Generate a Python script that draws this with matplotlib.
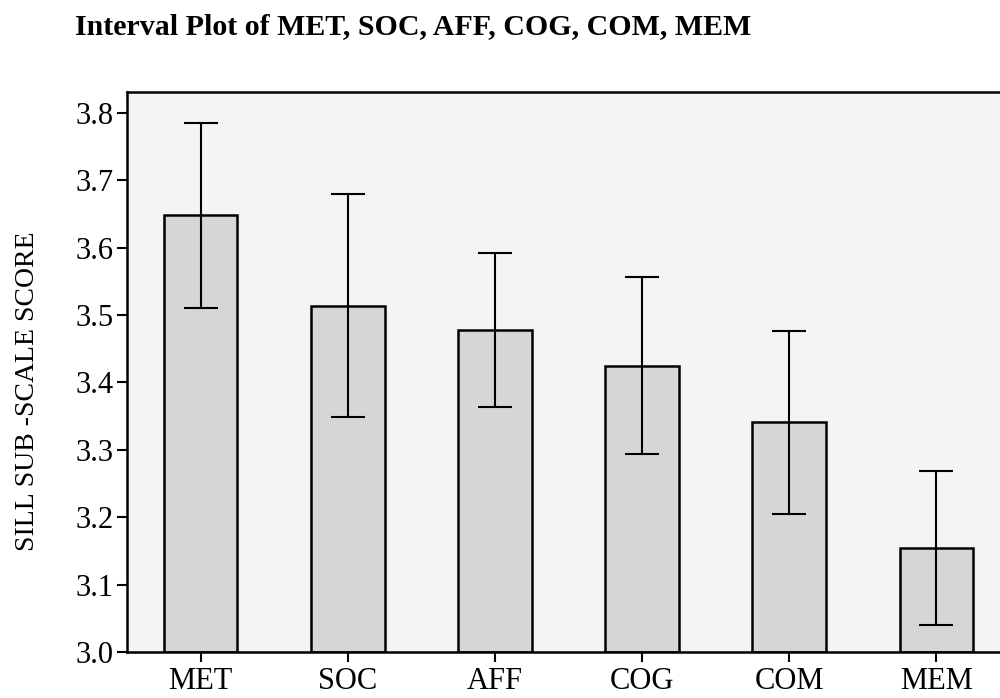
import numpy as np
import matplotlib.pyplot as plt

categories = ["MET", "SOC", "AFF", "COG", "COM", "MEM"]
means = [3.648, 3.514, 3.478, 3.425, 3.341, 3.154]
ci_half = [0.137, 0.166, 0.114, 0.131, 0.136, 0.114]
y_ticks = [3.0, 3.1, 3.2, 3.3, 3.4, 3.5, 3.6, 3.7, 3.8]

plt.rcParams['font.family'] = ['Liberation Serif', 'DejaVu Serif']

fig = plt.figure(figsize=(10, 6.98), dpi=100)
ax = fig.add_axes([0.127, 0.0659, 0.883, 0.8023])
ax.set_facecolor('#f4f4f4')

x = np.arange(len(categories))
ax.bar(x, np.array(means) - 3.0, bottom=3.0, width=0.5, color='#d6d6d6',
       edgecolor='black', linewidth=1.8, zorder=2)
ax.errorbar(x, means, yerr=ci_half, fmt='none', ecolor='black',
            elinewidth=1.5, capsize=12, capthick=1.5, zorder=3)

ax.set_xlim(-0.5, 5.5)
ax.set_ylim(3.0, 3.831)
ax.set_xticks(x)
ax.set_xticklabels(categories)
ax.set_yticks(y_ticks)
ax.set_yticklabels([f"{v:.1f}" for v in y_ticks])
ax.tick_params(axis='both', labelsize=22, length=7, width=1.5, direction='out')
ax.tick_params(axis='y', pad=2.5)
ax.tick_params(axis='x', pad=4)

for side in ['left', 'bottom', 'top']:
    ax.spines[side].set_linewidth(1.8)
ax.spines['right'].set_visible(False)

ax.set_ylabel("SILL SUB -SCALE SCORE", fontsize=20)
ax.yaxis.set_label_coords(-0.099, 0.466)

fig.text(0.075, 0.962, "Interval Plot of MET, SOC, AFF, COG, COM, MEM",
         fontsize=21.5, fontweight='bold', va='center', ha='left')

fig.savefig("out.png", dpi=100)
